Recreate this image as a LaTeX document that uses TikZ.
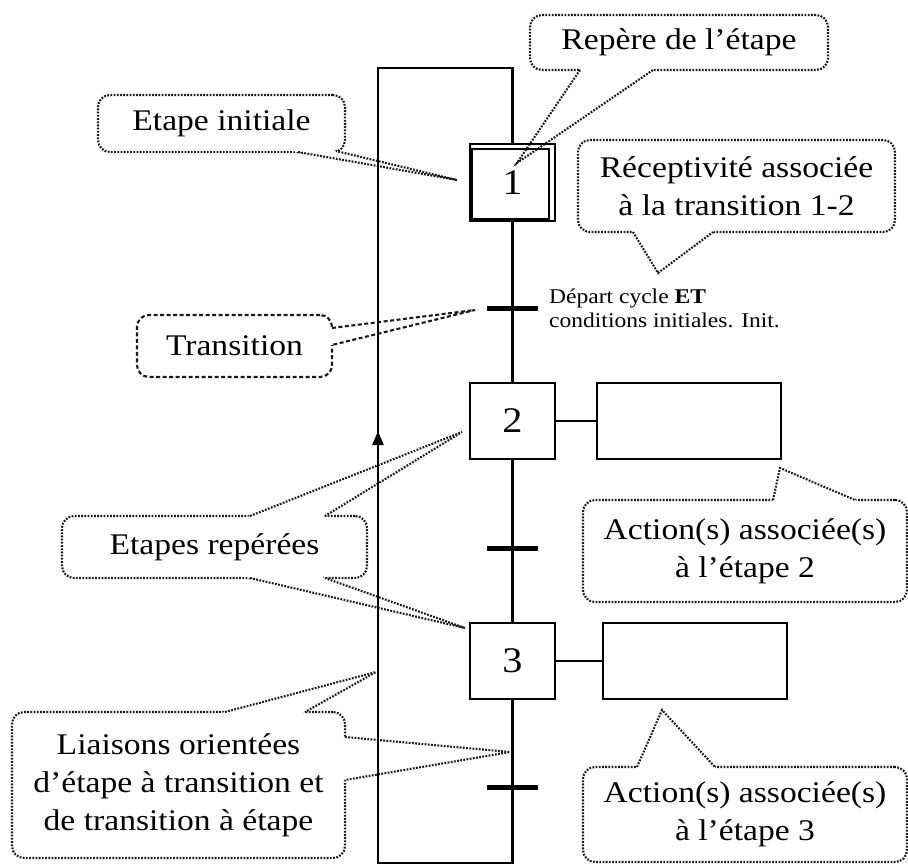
\documentclass[tikz,border=0pt]{standalone}
\usepackage{fontspec}
\setmainfont{Liberation Serif}[FakeStretch=1.12]
\usetikzlibrary{calc,arrows.meta}

\tikzset{
  chart/.style={line width=2.2pt},
  stepbox/.style={draw, line width=2.2pt, minimum width=85pt, minimum height=76pt,
    inner sep=0pt, outer sep=0pt, font=\fontsize{36}{40}\selectfont},
  actbox/.style={draw, line width=2.2pt, minimum width=184pt, minimum height=76pt,
    inner sep=0pt, outer sep=0pt},
  transbar/.style={fill=black, minimum width=51pt, minimum height=5pt, inner sep=0pt},
  calloutline/.style={line width=2.1pt, dash pattern=on 1.8pt off 1.4pt, black!90},
  transdash/.style={dash pattern=on 4pt off 2.5pt},
  notebox/.style={calloutline, draw, fill=white, rounded corners=12pt, align=center,
    inner sep=0pt, outer sep=0pt, text=black, font=\fontsize{30}{38}\selectfont},
}

% pointer of a callout: base point, tip, base point
\newcommand\calloutwedge[4][]{%
  \fill[white] ($(#3)!1.08!(#2)$) -- (#3) -- ($(#3)!1.08!(#4)$) -- cycle;
  \draw[calloutline,#1] (#2) -- (#3) -- (#4);}

\begin{document}
\begin{tikzpicture}[x=1pt,y=-1pt]
\useasboundingbox[fill=white] (0,0) rectangle (908,864);

% ---- callouts ----
\node[notebox, minimum width=298pt, minimum height=55pt] (nRepere) at (679,42.5) {Repère de l’étape};
\calloutwedge{580,70}{517,163}{653,70}

\node[notebox, minimum width=317pt, minimum height=92pt] (nRecept) at (736.5,186) {Réceptivité associée\\à la transition 1-2};
\calloutwedge{633,232}{658,273}{713,232}

\node[notebox, minimum width=247pt, minimum height=57pt] (nInit) at (221.5,123.5) {Etape initiale};
\calloutwedge{298,152}{457,180}{336,151}

\node[notebox, transdash, minimum width=195pt, minimum height=62pt] (nTrans) at (234.5,346) {Transition};
\calloutwedge[transdash]{332,328}{475,310}{332,345}

\node[notebox, minimum width=305pt, minimum height=62pt] (nEtapes) at (214.5,547) {Etapes repérées};
\calloutwedge{250,516}{462,432}{325,516}
\calloutwedge{250,578}{465,628}{325,578}

\node[notebox, minimum width=333pt, minimum height=146pt] (nLiaisons) at (178.5,785) {Liaisons orientées\\d’étape à transition et\\de transition à étape};
\calloutwedge{225,712}{376,672}{305,712}
\calloutwedge{345,737}{510,752}{345,780}

\node[notebox, minimum width=324pt, minimum height=102pt] (nAct2) at (745,551) {Action(s) associée(s)\\à l’étape 2};
\calloutwedge{773,500}{780,468}{855,500}

\node[notebox, minimum width=324pt, minimum height=95pt] (nAct3) at (745,814.5) {Action(s) associée(s)\\à l’étape 3};
\calloutwedge{637,767}{662,710}{715,767}

% ---- grafcet ----
\node[stepbox, minimum height=77pt] (s1) at (512.5,182.5) {1};
\draw[chart] ([shift={(2pt,-5pt)}]s1.north west) rectangle ([shift={(-6pt,2pt)}]s1.south east);
\node[stepbox] (s2) at (512.5,421) {2};
\node[stepbox] (s3) at (512.5,661) {3};

\node[actbox] (a2) at (689,421) {};
\node[actbox] (a3) at (695,661) {};

\coordinate (loopTR) at (512.5,68);
\coordinate (loopTL) at (378,68);
\coordinate (loopBL) at (378,863);
\coordinate (loopBR) at (512.5,863);
\coordinate (arrowTip) at (378,431);

\draw[chart] (s1.south) -- (s2.north);
\draw[chart] (s2.south) -- (s3.north);
\draw[chart] (s3.south) -- (loopBR) -- (loopBL) -- (loopTL) -- (loopTR) -- (s1.north);
\draw[chart, -{Triangle[length=14pt,width=11pt]}] (loopBL) -- (arrowTip);

\draw[chart] (s2.east) -- (a2.west);
\draw[chart] (s3.east) -- (a3.west);

\node[transbar] (t1) at (512.5,308) {};
\node[transbar] (t2) at (512.5,548) {};
\node[transbar] (t3) at (512.5,787) {};

\node[anchor=west, align=left, inner sep=0pt, font=\fontsize{21}{24}\selectfont] (r1) at (549,308)
  {Départ cycle \textbf{ET}\\conditions initiales. Init.};
\end{tikzpicture}
\end{document}
